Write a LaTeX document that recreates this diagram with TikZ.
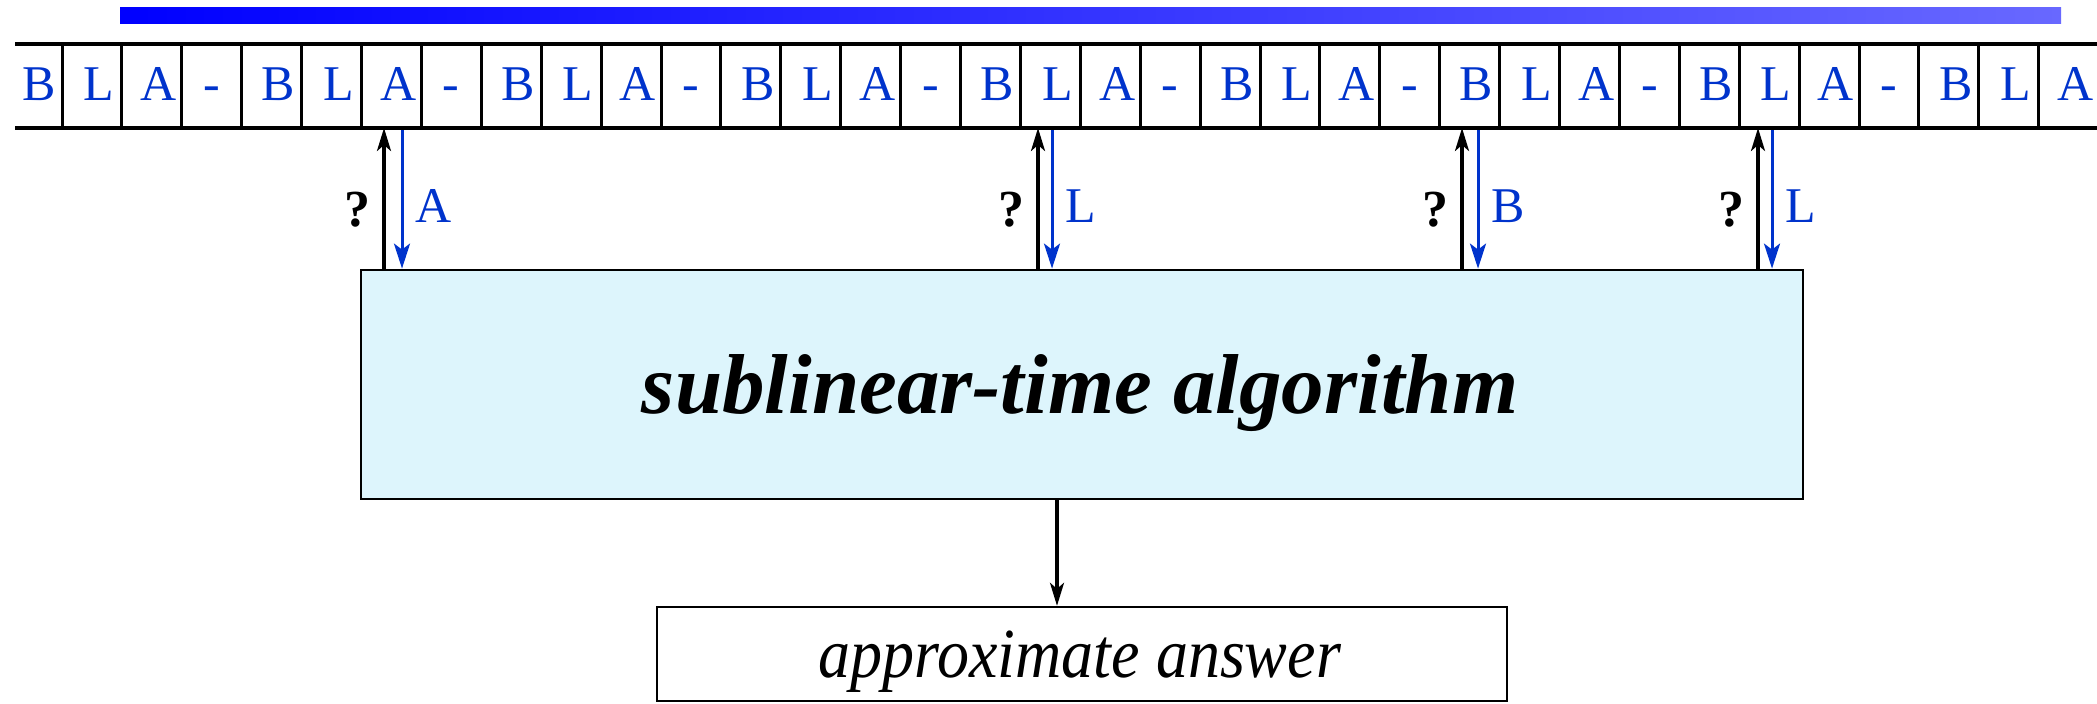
\documentclass[tikz,border=0pt]{standalone}
\usepackage{fontspec}
\setmainfont{Liberation Serif}
\usetikzlibrary{arrows.meta}
\definecolor{tapeblue}{RGB}{0,51,204}
\definecolor{boxcyan}{RGB}{221,245,252}
\definecolor{barleft}{RGB}{0,0,255}
\definecolor{barright}{RGB}{104,104,255}
\tikzset{
  cellchar/.style={anchor=base, text=tapeblue, font=\fontsize{25}{30}\selectfont, inner sep=0pt},
  tapeline/.style={line width=1.75pt},
  cellsep/.style={line width=1.5pt},
  ask/.style={line width=1.6pt, -{Stealth[length=11.5pt,width=7pt,inset=3pt]}},
  reply/.style={line width=1.5pt, draw=tapeblue, -{Stealth[length=12.5pt,width=8pt,inset=3pt]}},
  qmark/.style={anchor=base, font=\fontsize{26}{30}\selectfont\bfseries, inner sep=0pt},
  replylabel/.style={anchor=base west, text=tapeblue, font=\fontsize{25}{30}\selectfont, inner sep=0pt},
  algbox/.style={draw, line width=1.4pt, fill=boxcyan, minimum width=721pt, minimum height=114.5pt, inner sep=0pt},
  ansbox/.style={draw, line width=1.2pt, minimum width=425pt, minimum height=47pt, inner sep=0pt},
}
\begin{document}
\begin{tikzpicture}[x=0.5pt,y=-0.5pt]
\useasboundingbox (0,0) rectangle (2097,703);
% shaded bar along the top
\shade[left color=barleft, right color=barright] (120,7) rectangle (2061,23);
% the tape area and the boxes
\node[minimum width=1041pt, minimum height=42pt, inner sep=0pt, outer sep=0pt] (tape) at (1056,86) {};
\node[algbox] (alg) at (1082,384.5) {};
\node[anchor=base, inner sep=0pt, font=\fontsize{42.5}{50}\selectfont\bfseries\itshape] (algtext) at (1080,413) {sublinear-time algorithm};
\node[ansbox] (answer) at (1082,654) {};
\node[anchor=base, inner sep=0pt, yscale=1.1, transform shape, font=\fontsize{32}{38}\selectfont\itshape] (anstext) at (1080,677) {approximate answer};
% queries and replies
\foreach \bx/\wx/\lab [count=\n] in {384/402/A, 1038/1052/L, 1462/1478/B, 1758/1772/L} {
  \coordinate (up\n) at (\bx,0);
  \coordinate (down\n) at (\wx,0);
  \draw[ask] (alg.north -| up\n) -- (tape.south -| up\n);
  \draw[reply] (tape.south -| down\n) -- (alg.north -| down\n);
  \node[qmark] (q\n) at ({\bx-27},226) {?};
  \node[replylabel] (r\n) at ({\wx+13},222) {\lab};
}
% output arrow
\coordinate (out) at (1057,0);
\draw[ask] (alg.south -| out) -- (answer.north -| out);
% tape borders and cell separators
\draw[tapeline] (tape.north west) -- (tape.north east);
\draw[tapeline] (tape.south west) -- (tape.south east);
\foreach \k in {0,...,33} {
  \draw[cellsep] ({62+59.9*\k},44) -- ({62+59.9*\k},128);
}
% tape contents
\foreach \i in {0,...,34} {
  \pgfmathtruncatemacro\r{mod(\i,4)}
  \pgfmathsetmacro\off{\r==3 ? 0 : 7}
  \node[cellchar] (c\i) at ({32+59.9*\i+\off},100) {\ifcase\r B\or L\or A\or -\fi};
}
\end{tikzpicture}
\end{document}
